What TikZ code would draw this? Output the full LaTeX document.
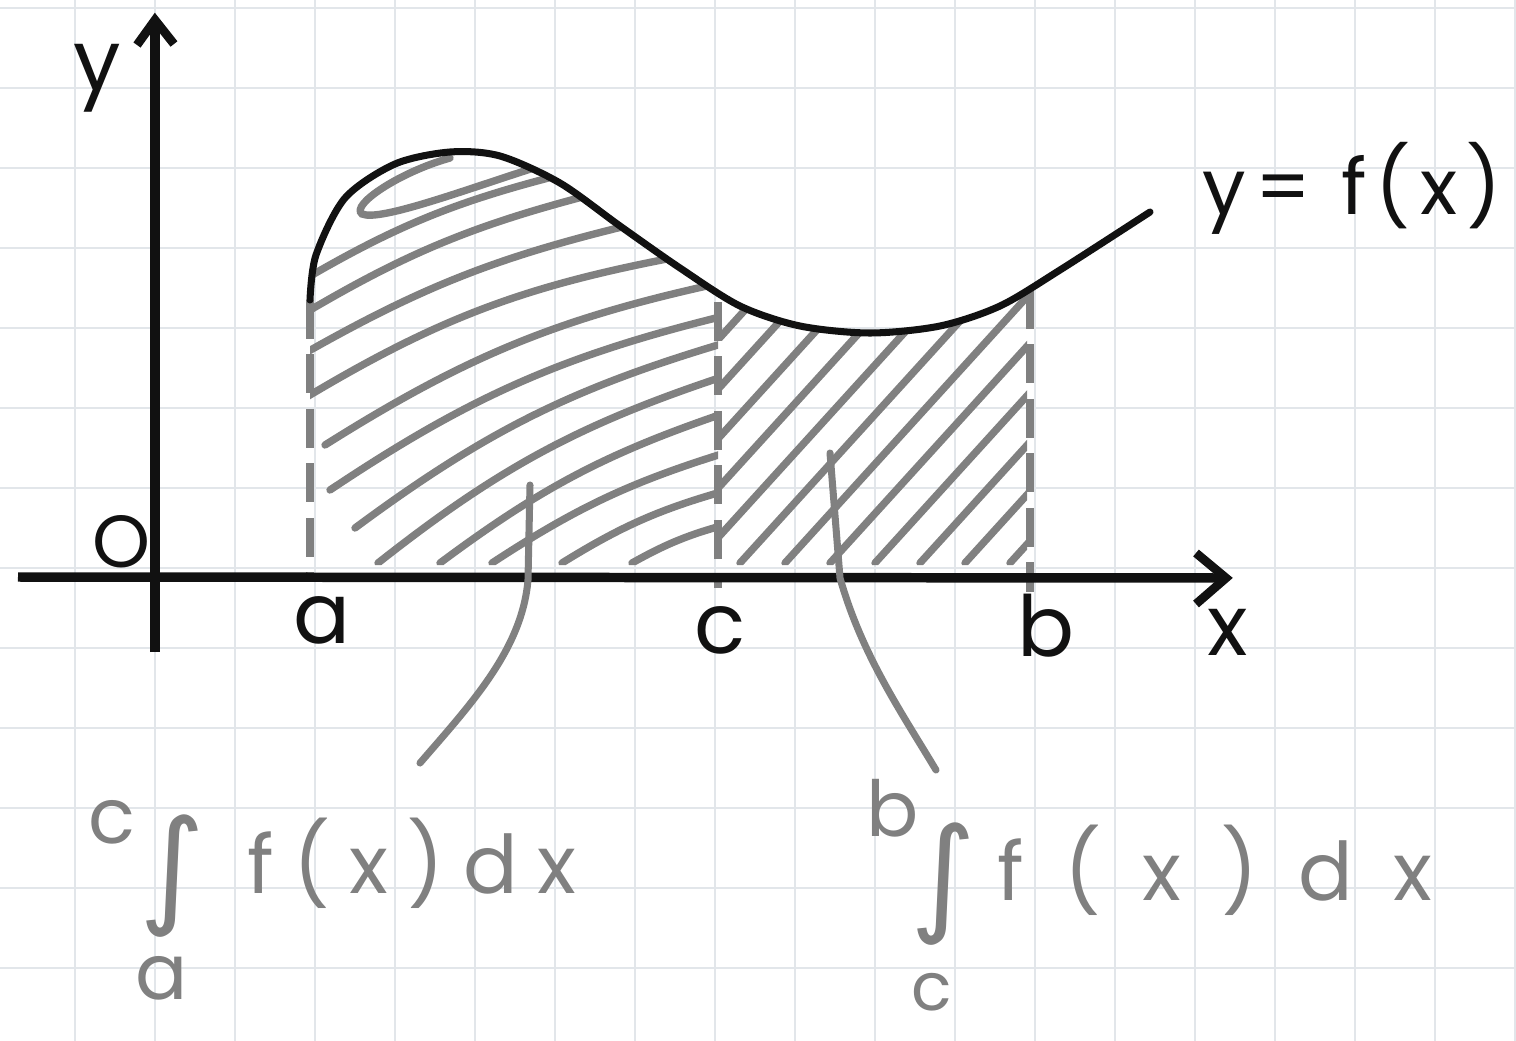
\documentclass[tikz,border=0pt]{standalone}
\usepackage{fontspec}
\newfontfamily\hand{Poppins}
\newfontfamily\symb{DejaVu Sans}
\definecolor{gridc}{RGB}{226,230,234}
\definecolor{ink}{RGB}{17,17,17}
\definecolor{pen}{RGB}{128,128,128}
\begin{document}
\begin{tikzpicture}[x=0.02cm,y=-0.02cm,
  gridline/.style={draw=gridc,line width=1.6pt},
  axisline/.style={draw=ink,line width=5.4pt},
  tipline/.style={draw=ink,line width=5pt,line join=miter},
  curveline/.style={draw=ink,line width=4pt,line cap=round},
  hatch/.style={draw=pen,line width=4.2pt,line cap=round},
  guide/.style={draw=pen,line width=4.2pt,dash pattern=on 22pt off 9pt},
  leader/.style={draw=pen,line width=4pt,line cap=round},
  blacklabel/.style={text=ink,inner sep=0pt,font=\hand\fontsize{48}{52}\selectfont},
  graylabel/.style={text=pen,inner sep=0pt,font=\hand\fontsize{44}{48}\selectfont},
  intsign/.style={text=pen,inner sep=0pt,font=\symb\fontsize{72}{80}\selectfont}
]
\useasboundingbox (0,0) rectangle (1516,1041);
\fill[white] (0,0) rectangle (1516,1041);
% grid
\foreach \k in {0,...,18} {\draw[gridline] (75+80*\k,0) -- (75+80*\k,1041);}
\foreach \k in {0,...,13} {\draw[gridline] (0,8+80*\k) -- (1516,8+80*\k);}

% hatching, left region (a to c)
\begin{scope}
\clip (310,565) -- plot[smooth] coordinates {(310,300) (316,255) (345,198) (395,164) (450,152) (500,156) (560,183) (620,226) (680,268) (740,306) (800,326) (870,333) (940,326) (1000,306) (1060,270) (1150,212)} -- (1150,565) -- cycle;
\clip (310,0) rectangle (718,1041);
\draw[hatch] (450,158) .. controls (400,172) and (350,205) .. (362,214) .. controls (380,222) and (470,188) .. (540,166);
\draw[hatch] (300,282) to[bend left=8] (560,175);
\draw[hatch] (300,316) to[bend left=8] (590,195);
\draw[hatch] (300,356) to[bend left=8] (630,225);
\draw[hatch] (305,398) to[bend left=10] (672,258);
\draw[hatch] (325,445) to[bend left=10] (725,282);
\draw[hatch] (330,490) to[bend left=10] (728,315);
\draw[hatch] (355,528) to[bend left=10] (728,342);
\draw[hatch] (378,563) to[bend left=10] (728,375);
\draw[hatch] (440,563) to[bend left=9] (728,412);
\draw[hatch] (492,563) to[bend left=8] (728,452);
\draw[hatch] (562,563) to[bend left=8] (728,490);
\draw[hatch] (632,563) to[bend left=7] (728,524);
\end{scope}

% hatching, right region (c to b)
\begin{scope}
\clip (310,565) -- plot[smooth] coordinates {(310,300) (316,255) (345,198) (395,164) (450,152) (500,156) (560,183) (620,226) (680,268) (740,306) (800,326) (870,333) (940,326) (1000,306) (1060,270) (1150,212)} -- (1150,565) -- cycle;
\clip (722,0) rectangle (1027,1041);
\foreach \s in {425,470,...,1010} {\draw[hatch] (\s,563) -- ++(280,-308);}
\end{scope}

% dashed verticals
\coordinate (atop) at (310,300); \coordinate (abot) at (310,575);
\coordinate (ctop) at (718,302); \coordinate (cbot) at (718,588);
\coordinate (btop) at (1030,290); \coordinate (bbot) at (1030,592);
\draw[guide] (atop) -- (abot);
\draw[guide] (ctop) -- (cbot);
\draw[guide] (btop) -- (bbot);

% curve y = f(x)
\draw[curveline] plot[smooth] coordinates {(310,300) (316,255) (345,198) (395,164) (450,152) (500,156) (560,183) (620,226) (680,268) (740,306) (800,326) (870,333) (940,326) (1000,306) (1060,270) (1150,212)};

% axes
\coordinate (yb) at (155,652); \coordinate (yt) at (155,20);
\coordinate (yw1) at (137,45); \coordinate (yw2) at (174,44);
\coordinate (xl) at (18,577); \coordinate (xr) at (1226,578);
\coordinate (xw1) at (1196,553); \coordinate (xw2) at (1196,604);
\draw[axisline] (yb) -- (yt);
\draw[tipline] (yw1) -- (yt) -- (yw2);
\draw[axisline] (xl) -- (xr);
\draw[tipline] (xw1) -- (xr) -- (xw2);

% leaders
\coordinate (l1top) at (530,485); \coordinate (l1bend) at (528,580); \coordinate (l1end) at (420,763);
\draw[leader] (l1top) -- (l1bend) .. controls (522,650) and (470,705) .. (l1end);
\coordinate (r1top) at (830,453); \coordinate (r1bend) at (840,578); \coordinate (r1end) at (936,770);
\draw[leader] (r1top) -- (r1bend) .. controls (862,655) and (900,710) .. (r1end);

% black labels
\node[blacklabel] (ylab) at (97,78) {y};
\node[blacklabel,font=\hand\fontsize{42}{46}\selectfont] (olab) at (122,542) {O};
\node[blacklabel] (alab) at (322,620) {a};
\node[blacklabel] (clab) at (720,630) {c};
\node[blacklabel] (blab) at (1046,626) {b};
\node[blacklabel] (xlab) at (1228,632) {x};
\node[blacklabel,font=\hand\fontsize{44}{48}\selectfont\addfontfeatures{LetterSpace=12}] (flab) at (1352,188) {y= f(x)};

% gray integral labels
\node[graylabel] (ic1) at (112,822) {c};
\node[intsign] (int1) at (172,876) {∫};
\node[graylabel,font=\hand\fontsize{46}{50}\selectfont\addfontfeatures{LetterSpace=24}] (f1) at (412,863) {f(x)dx};
\node[graylabel] (ia1) at (162,978) {a};
\node[graylabel] (ib2) at (893,808) {b};
\node[intsign] (int2) at (943,884) {∫};
\node[graylabel,font=\hand\fontsize{38}{42}\selectfont] (ic2) at (932,992) {c};
\node[graylabel,font=\hand\fontsize{46}{50}\selectfont\addfontfeatures{LetterSpace=50}] (f2) at (1215,870) {f(x)dx};
\end{tikzpicture}
\end{document}
